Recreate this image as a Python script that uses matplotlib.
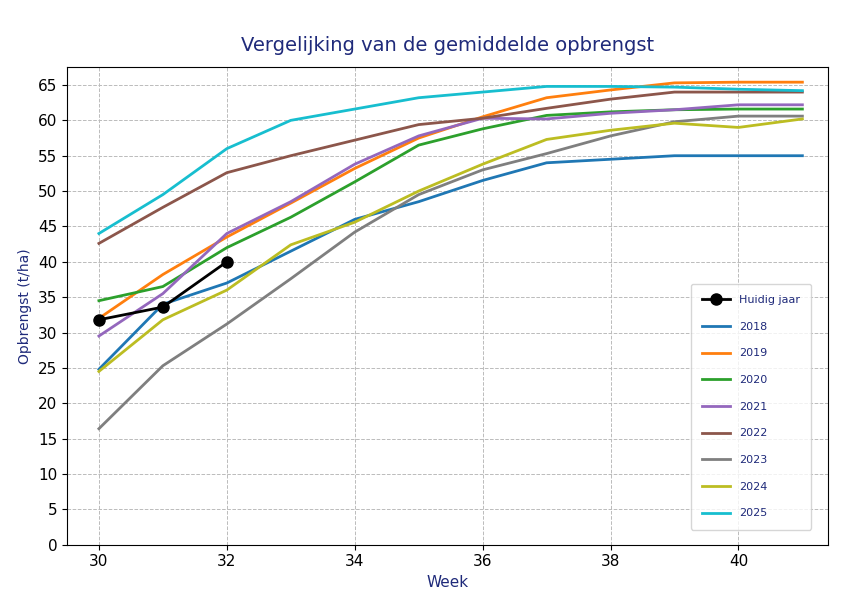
import matplotlib.pyplot as plt

weeks = list(range(30, 42))
series = {
    '2018': [24.8, 34.0, 37.0, 41.5, 46.0, 48.5, 51.5, 54.0, 54.5, 55.0, 55.0, 55.0],
    '2019': [32.0, 38.2, 43.5, 48.3, 53.2, 57.5, 60.5, 63.2, 64.3, 65.3, 65.4, 65.4],
    '2020': [34.5, 36.5, 42.0, 46.3, 51.3, 56.5, 58.8, 60.7, 61.2, 61.5, 61.6, 61.6],
    '2021': [29.5, 35.5, 44.0, 48.5, 53.8, 57.8, 60.3, 60.2, 61.0, 61.5, 62.2, 62.2],
    '2022': [42.6, 47.7, 52.6, 55.0, 57.2, 59.4, 60.3, 61.7, 63.0, 64.0, 64.0, 64.0],
    '2023': [16.4, 25.3, 31.2, 37.6, 44.2, 49.5, 53.0, 55.3, 57.8, 59.8, 60.6, 60.6],
    '2024': [24.5, 31.8, 36.0, 42.4, 45.6, 50.0, 53.8, 57.3, 58.6, 59.6, 59.0, 60.2],
    '2025': [44.0, 49.5, 56.0, 60.0, 61.6, 63.2, 64.0, 64.8, 64.8, 64.7, 64.4, 64.2],
}
colors = ['#1f77b4', '#ff7f0e', '#2ca02c', '#9467bd', '#8c564b', '#7f7f7f', '#bcbd22', '#17becf']
current_weeks = [30, 31, 32]
current_vals = [31.8, 33.6, 40.0]

navy = '#1f2a7a'

fig = plt.figure(figsize=(8.58, 6.12), dpi=100)
ax = fig.add_axes([0.078, 0.11, 0.887, 0.78])
ax.plot(current_weeks, current_vals, 'k-o', lw=2, ms=8, label='Huidig jaar', zorder=10)
for (name, vals), c in zip(series.items(), colors):
    ax.plot(weeks, vals, lw=2, color=c, label=name)

ax.set_xlim(29.5, 41.4)
ax.set_ylim(0, 67.5)
ax.set_xticks(range(30, 42, 2))
ax.set_yticks(range(0, 66, 5))
ax.tick_params(labelsize=11)
ax.grid(True, ls='--', color='#bbbbbb', lw=0.7)
ax.set_title('Vergelijking van de gemiddelde opbrengst', fontsize=14, color=navy, pad=12)
ax.set_xlabel('Week', fontsize=11, color=navy)
ax.set_ylabel('Opbrengst (t/ha)', fontsize=10, color=navy)
leg = ax.legend(loc='lower right', prop={'size': 8}, labelspacing=1.5,
                borderpad=1.0, handlelength=2.5, bbox_to_anchor=(0.985, 0.02))
for t in leg.get_texts():
    t.set_color(navy)
fig.savefig('out.png')
